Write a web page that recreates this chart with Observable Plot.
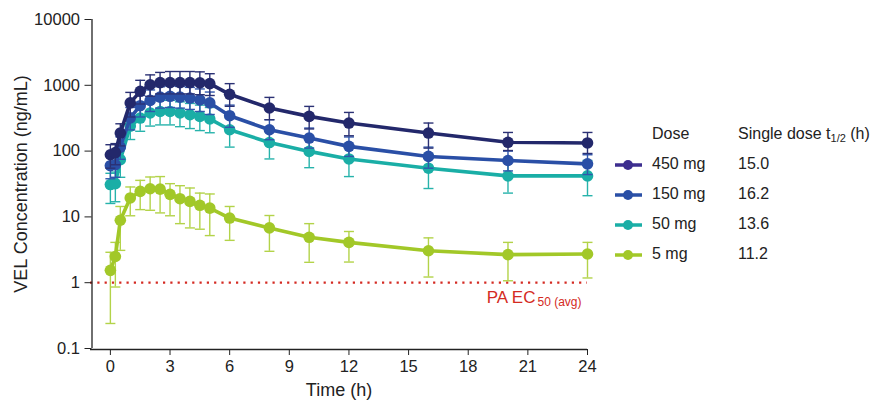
<!DOCTYPE html>
<html><head><meta charset="utf-8">
<script src="https://cdn.jsdelivr.net/npm/d3@7"></script>
<script src="https://cdn.jsdelivr.net/npm/@observablehq/plot@0.6"></script>
<style>
html,body{margin:0;padding:0;background:#fff;}
#wrap{position:relative;width:881px;height:401px;font-family:"Liberation Sans",Arial,sans-serif;color:#222;}
#legend{position:absolute;left:612px;top:125px;font-size:16px;}
#legend .row{position:absolute;white-space:nowrap;}
sub{font-size:11px;vertical-align:-3px;}
</style>
</head><body>
<div id="wrap"><div id="chart"></div><div id="legend"></div></div>
<script>
const times = [0, 0.25, 0.5, 1, 1.5, 2, 2.5, 3, 3.5, 4, 4.5, 5, 6, 8, 10, 12, 16, 20, 24];
const doses = ["450 mg", "150 mg", "50 mg", "5 mg"];
const halfLives = ["15.0", "16.2", "13.6", "11.2"];
const seriesColors = ["#23286b", "#2a4fa6", "#1aaea6", "#a2c828"];
const errorColors = ["#2b3174", "#3056ac", "#27b3ab", "#b3d349"];
const legendColors = ["#3d2e8f", "#2a4fa6", "#1aaea6", "#a2c828"];

const mean450 = [88, 95, 188, 540, 810, 1020, 1100, 1100, 1100, 1100, 1090, 1060, 730, 452, 337, 267, 188, 136, 133];
const hi450   = [125, 130, 260, 780, 1190, 1440, 1570, 1620, 1620, 1620, 1600, 1500, 1060, 655, 478, 387, 267, 192, 192];
const lo450   = [55, 62, 120, 330, 520, 680, 740, 740, 740, 740, 720, 700, 480, 300, 217, 171, 111, 102, 92];

const mean150 = [60, 62, 115, 320, 490, 590, 660, 680, 660, 640, 600, 540, 345, 211, 158, 118, 83, 72, 64];
const hi150   = [85, 88, 165, 460, 700, 850, 950, 980, 960, 930, 880, 790, 500, 300, 224, 164, 115, 100, 88];
const lo150   = [38, 40, 75, 210, 330, 400, 450, 460, 450, 430, 400, 360, 230, 149, 111, 83, 55, 50, 44];

const mean50 = [31, 32, 74, 240, 318, 380, 400, 400, 380, 357, 337, 308, 211, 135, 99, 76, 55, 42, 42];
const hi50   = [46, 48, 110, 350, 460, 550, 590, 590, 560, 530, 500, 460, 320, 210, 150, 115, 90, 70, 72];
const lo50   = [16, 17, 40, 150, 200, 240, 250, 250, 235, 220, 205, 190, 115, 76, 56, 41, 27, 23, 21];

const mean5 = [1.54, 2.5, 8.9, 19.4, 24.4, 26.8, 26.4, 22, 18.9, 17.2, 15, 13.6, 9.6, 6.8, 4.9, 4.1, 3.06, 2.67, 2.73];
const hi5   = [2.9, 4.1, 14.4, 28.5, 35.9, 40.4, 41, 32, 29.8, 27.5, 23, 22.3, 14.4, 10.5, 7.9, 6.0, 4.8, 4.1, 4.1];
const lo5   = [0.24, 0.86, 3.1, 10.4, 12.9, 12.6, 11.5, 10.4, 7.9, 6.8, 6.5, 5.2, 4.4, 3.0, 2.04, 2.06, 1.22, 1.07, 1.18];

const xTicks = [0, 3, 6, 9, 12, 15, 18, 21, 24];
const yTicks = [0.1, 1, 10, 100, 1000, 10000];
const xDomain = [-1, 24];
const yDomain = [0.1, 10000];
const ec50 = 1;

const seriesValues = [[mean450, lo450, hi450], [mean150, lo150, hi150], [mean50, lo50, hi50], [mean5, lo5, hi5]];

const capSymbol = {draw(ctx, size) { const w = Math.sqrt(size / Math.PI); ctx.moveTo(-w, 0); ctx.lineTo(w, 0); }};

const marks = [];
// draw lowest dose first so highest is on top
for (let i = doses.length - 1; i >= 0; i--) {
  const [m, lo, hi] = seriesValues[i];
  const rows = times.map((t, k) => ({t, v: m[k], lo: lo[k], hi: hi[k]}));
  const c = seriesColors[i], ec = errorColors[i];
  marks.push(Plot.ruleX(rows, {x: "t", y1: "lo", y2: "hi", stroke: ec, strokeWidth: 1.4}));
  marks.push(Plot.dot(rows, {x: "t", y: "lo", symbol: capSymbol, r: 5, stroke: ec, strokeWidth: 1.4, fill: "none"}));
  marks.push(Plot.dot(rows, {x: "t", y: "hi", symbol: capSymbol, r: 5, stroke: ec, strokeWidth: 1.4, fill: "none"}));
  marks.push(Plot.line(rows, {x: "t", y: "v", stroke: c, strokeWidth: 3.6}));
  marks.push(Plot.dot(rows, {x: "t", y: "v", r: 5.8, fill: c, stroke: "none"}));
}

const chart = Plot.plot({
  width: 881, height: 401,
  marginLeft: 90, marginRight: 294, marginTop: 19, marginBottom: 53,
  x: {domain: xDomain},
  y: {type: "log", domain: yDomain},
  style: {fontFamily: "'Liberation Sans', Arial, sans-serif", fontSize: "16.5px", color: "#222", background: "#fff"},
  marks: [
    Plot.ruleY([ec50], {stroke: "#d42a22", strokeWidth: 2.2, strokeDasharray: "2.2,5.1"}),
    ...marks,
    Plot.ruleX([xDomain[0]], {y1: yDomain[0], y2: yDomain[1], x: d => d, stroke: "#222", strokeWidth: 1.3, dx: 1.5}),
    Plot.ruleY([yDomain[0]], {stroke: "#222", strokeWidth: 1.3, dy: 1}),
    Plot.axisX({ticks: xTicks, tickSize: 6, tickPadding: 5, label: null, stroke: "#222", dy: 1, fontSize: 16.5}),
    Plot.axisY({ticks: yTicks, tickSize: 7, tickPadding: 5, tickFormat: d => String(d), label: null, dx: 1.5, fontSize: 16.5}),
    Plot.text(["Time (h)"], {frameAnchor: "bottom", dy: 47, fontSize: 18, fill: "#222"}),
    Plot.text(["VEL Concentration (ng/mL)"], {frameAnchor: "left", textAnchor: "middle", rotate: -90, dx: -69, fontSize: 18, fill: "#222"}),
    Plot.text(["PA EC"], {x: xDomain[1], y: ec50, textAnchor: "end", dx: -52, dy: 14.5, fontSize: 17, fill: "#d42a22"}),
    Plot.text(["50 (avg)"], {x: xDomain[1], y: ec50, textAnchor: "end", dx: -6, dy: 19, fontSize: 12, fill: "#d42a22"})
  ]
});
document.getElementById("chart").appendChild(chart);

const leg = document.getElementById("legend");
let html = `<div class="row" style="left:40px;top:0">Dose</div><div class="row" style="left:126px;top:0">Single dose t<sub>1/2</sub> (h)</div>`;
doses.forEach((d, i) => {
  const top = 30 + i * 30;
  html += `<svg class="row" style="left:2px;top:${top}px" width="30" height="20"><line x1="1" y1="10" x2="28" y2="10" stroke="${legendColors[i]}" stroke-width="3.5"/><circle cx="14" cy="10" r="5" fill="${legendColors[i]}"/></svg>`;
  html += `<div class="row" style="left:40px;top:${top}px">${d}</div><div class="row" style="left:126px;top:${top}px">${halfLives[i]}</div>`;
});
leg.innerHTML = html;
</script>
</body></html>
